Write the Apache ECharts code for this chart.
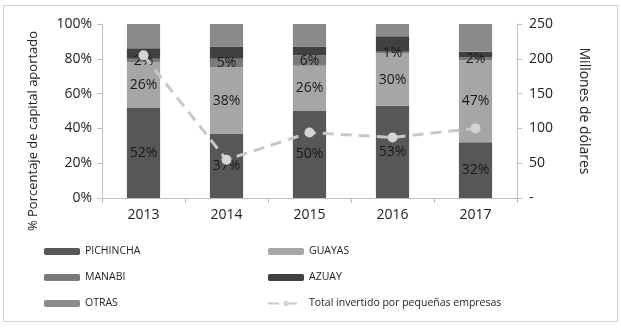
<!DOCTYPE html>
<html>
<head>
<meta charset="utf-8">
<script src="https://cdn.jsdelivr.net/npm/echarts@6/dist/echarts.min.js"></script>
<style>
  html, body { margin: 0; padding: 0; background: #fff; }
  #chart { width: 621px; height: 328px; }
</style>
</head>
<body>
<div id="chart"></div>
<script>
// Years on the category axis
const years = ['2013', '2014', '2015', '2016', '2017'];

// Share of contributed capital by province (%)
const pichincha = [52, 37, 50, 53, 32];
const guayas = [26, 38, 26, 30, 47];
const manabi = [2, 5, 6, 1, 2];
const azuay = [6, 7, 5, 9, 3];
const otras = [14, 13, 13, 7, 16];

// Total invested by small firms (millions of dollars)
const totalInvertido = [205, 55, 94, 87, 100];

// Axis tick labels
const pctTicks = ['0%', '20%', '40%', '60%', '80%', '100%'];
const usdTicks = ['-', '50', '100', '150', '200', '250'];

const FONT = '"Open Sans", "Liberation Sans", sans-serif';
const axisGray = '#bfbfbf';

function barSeries(name, data, color, showLabel) {
  return {
    name: name,
    type: 'bar',
    stack: 'share',
    data: data,
    barWidth: '40%',
    itemStyle: { color: color },
    label: {
      show: showLabel,
      position: 'inside',
      formatter: '{c}%',
      color: '#1a1a1a',
      fontFamily: FONT,
      fontSize: 14
    },
    emphasis: { disabled: true }
  };
}

const legendText = { fontFamily: FONT, fontSize: 10.5, color: '#222' };

const chart = echarts.init(document.getElementById('chart'), null, { renderer: 'canvas' });

chart.setOption({
  animation: false,
  backgroundColor: '#fff',
  graphic: [
    {
      type: 'rect',
      shape: { x: 3.5, y: 5.5, width: 614, height: 316 },
      style: { fill: 'none', stroke: '#d0d0d0', lineWidth: 1 },
      silent: true,
      z: -1
    },
    {
      // left axis title
      type: 'text',
      x: 33, y: 131,
      rotation: Math.PI / 2,
      style: {
        text: '% Porcentaje de capital aportado',
        font: '13px ' + FONT,
        fill: '#222',
        align: 'center',
        verticalAlign: 'middle'
      },
      silent: true
    }
  ],
  grid: { left: 102, right: 104, top: 24, bottom: 130 },
  legend: [
    {
      orient: 'vertical', left: 44, top: 246, padding: 0,
      itemWidth: 36, itemHeight: 7, itemGap: 15,
      textStyle: legendText,
      data: ['PICHINCHA', 'MANABI', 'OTRAS']
    },
    {
      orient: 'vertical', left: 267, top: 246, padding: 0,
      itemWidth: 36, itemHeight: 7, itemGap: 15,
      textStyle: legendText,
      data: ['GUAYAS', 'AZUAY', 'Total invertido por pequeñas empresas']
    }
  ],
  xAxis: {
    type: 'category',
    data: years,
    axisLine: { lineStyle: { color: axisGray } },
    axisTick: { show: true, alignWithLabel: false, length: 5, lineStyle: { color: axisGray } },
    axisLabel: { fontFamily: FONT, fontSize: 14, color: '#222', margin: 10 }
  },
  yAxis: [
    {
      type: 'value', min: 0, max: 100, interval: 20,
      axisLine: { show: true, lineStyle: { color: axisGray } },
      axisTick: { show: true, length: 5, lineStyle: { color: axisGray } },
      splitLine: { show: false },
      axisLabel: {
        fontFamily: FONT, fontSize: 14, color: '#222', margin: 10,
        formatter: (v) => pctTicks[Math.round(v / 20)]
      }
    },
    {
      type: 'value', min: 0, max: 250, interval: 50,
      name: 'Millones de dólares',
      nameLocation: 'middle', nameGap: 60, nameRotate: -90,
      nameTextStyle: { fontFamily: FONT, fontSize: 14, color: '#222' },
      position: 'right',
      axisLine: { show: true, lineStyle: { color: axisGray } },
      axisTick: { show: true, length: 5, lineStyle: { color: axisGray } },
      splitLine: { show: false },
      axisLabel: {
        fontFamily: FONT, fontSize: 14, color: '#222', margin: 12,
        formatter: (v) => usdTicks[Math.round(v / 50)]
      }
    }
  ],
  series: [
    barSeries('PICHINCHA', pichincha, '#575757', true),
    barSeries('GUAYAS', guayas, '#a6a6a6', true),
    barSeries('MANABI', manabi, '#7a7a7a', true),
    barSeries('AZUAY', azuay, '#404040', false),
    barSeries('OTRAS', otras, '#8a8a8a', false),
    {
      name: 'Total invertido por pequeñas empresas',
      type: 'line',
      yAxisIndex: 1,
      data: totalInvertido,
      symbol: 'circle',
      symbolSize: 10,
      itemStyle: { color: '#d4d4d4' },
      lineStyle: { color: '#c8c8c8', width: 3, type: [11, 7] },
      z: 5,
      emphasis: { disabled: true }
    }
  ]
});
</script>
</body>
</html>
